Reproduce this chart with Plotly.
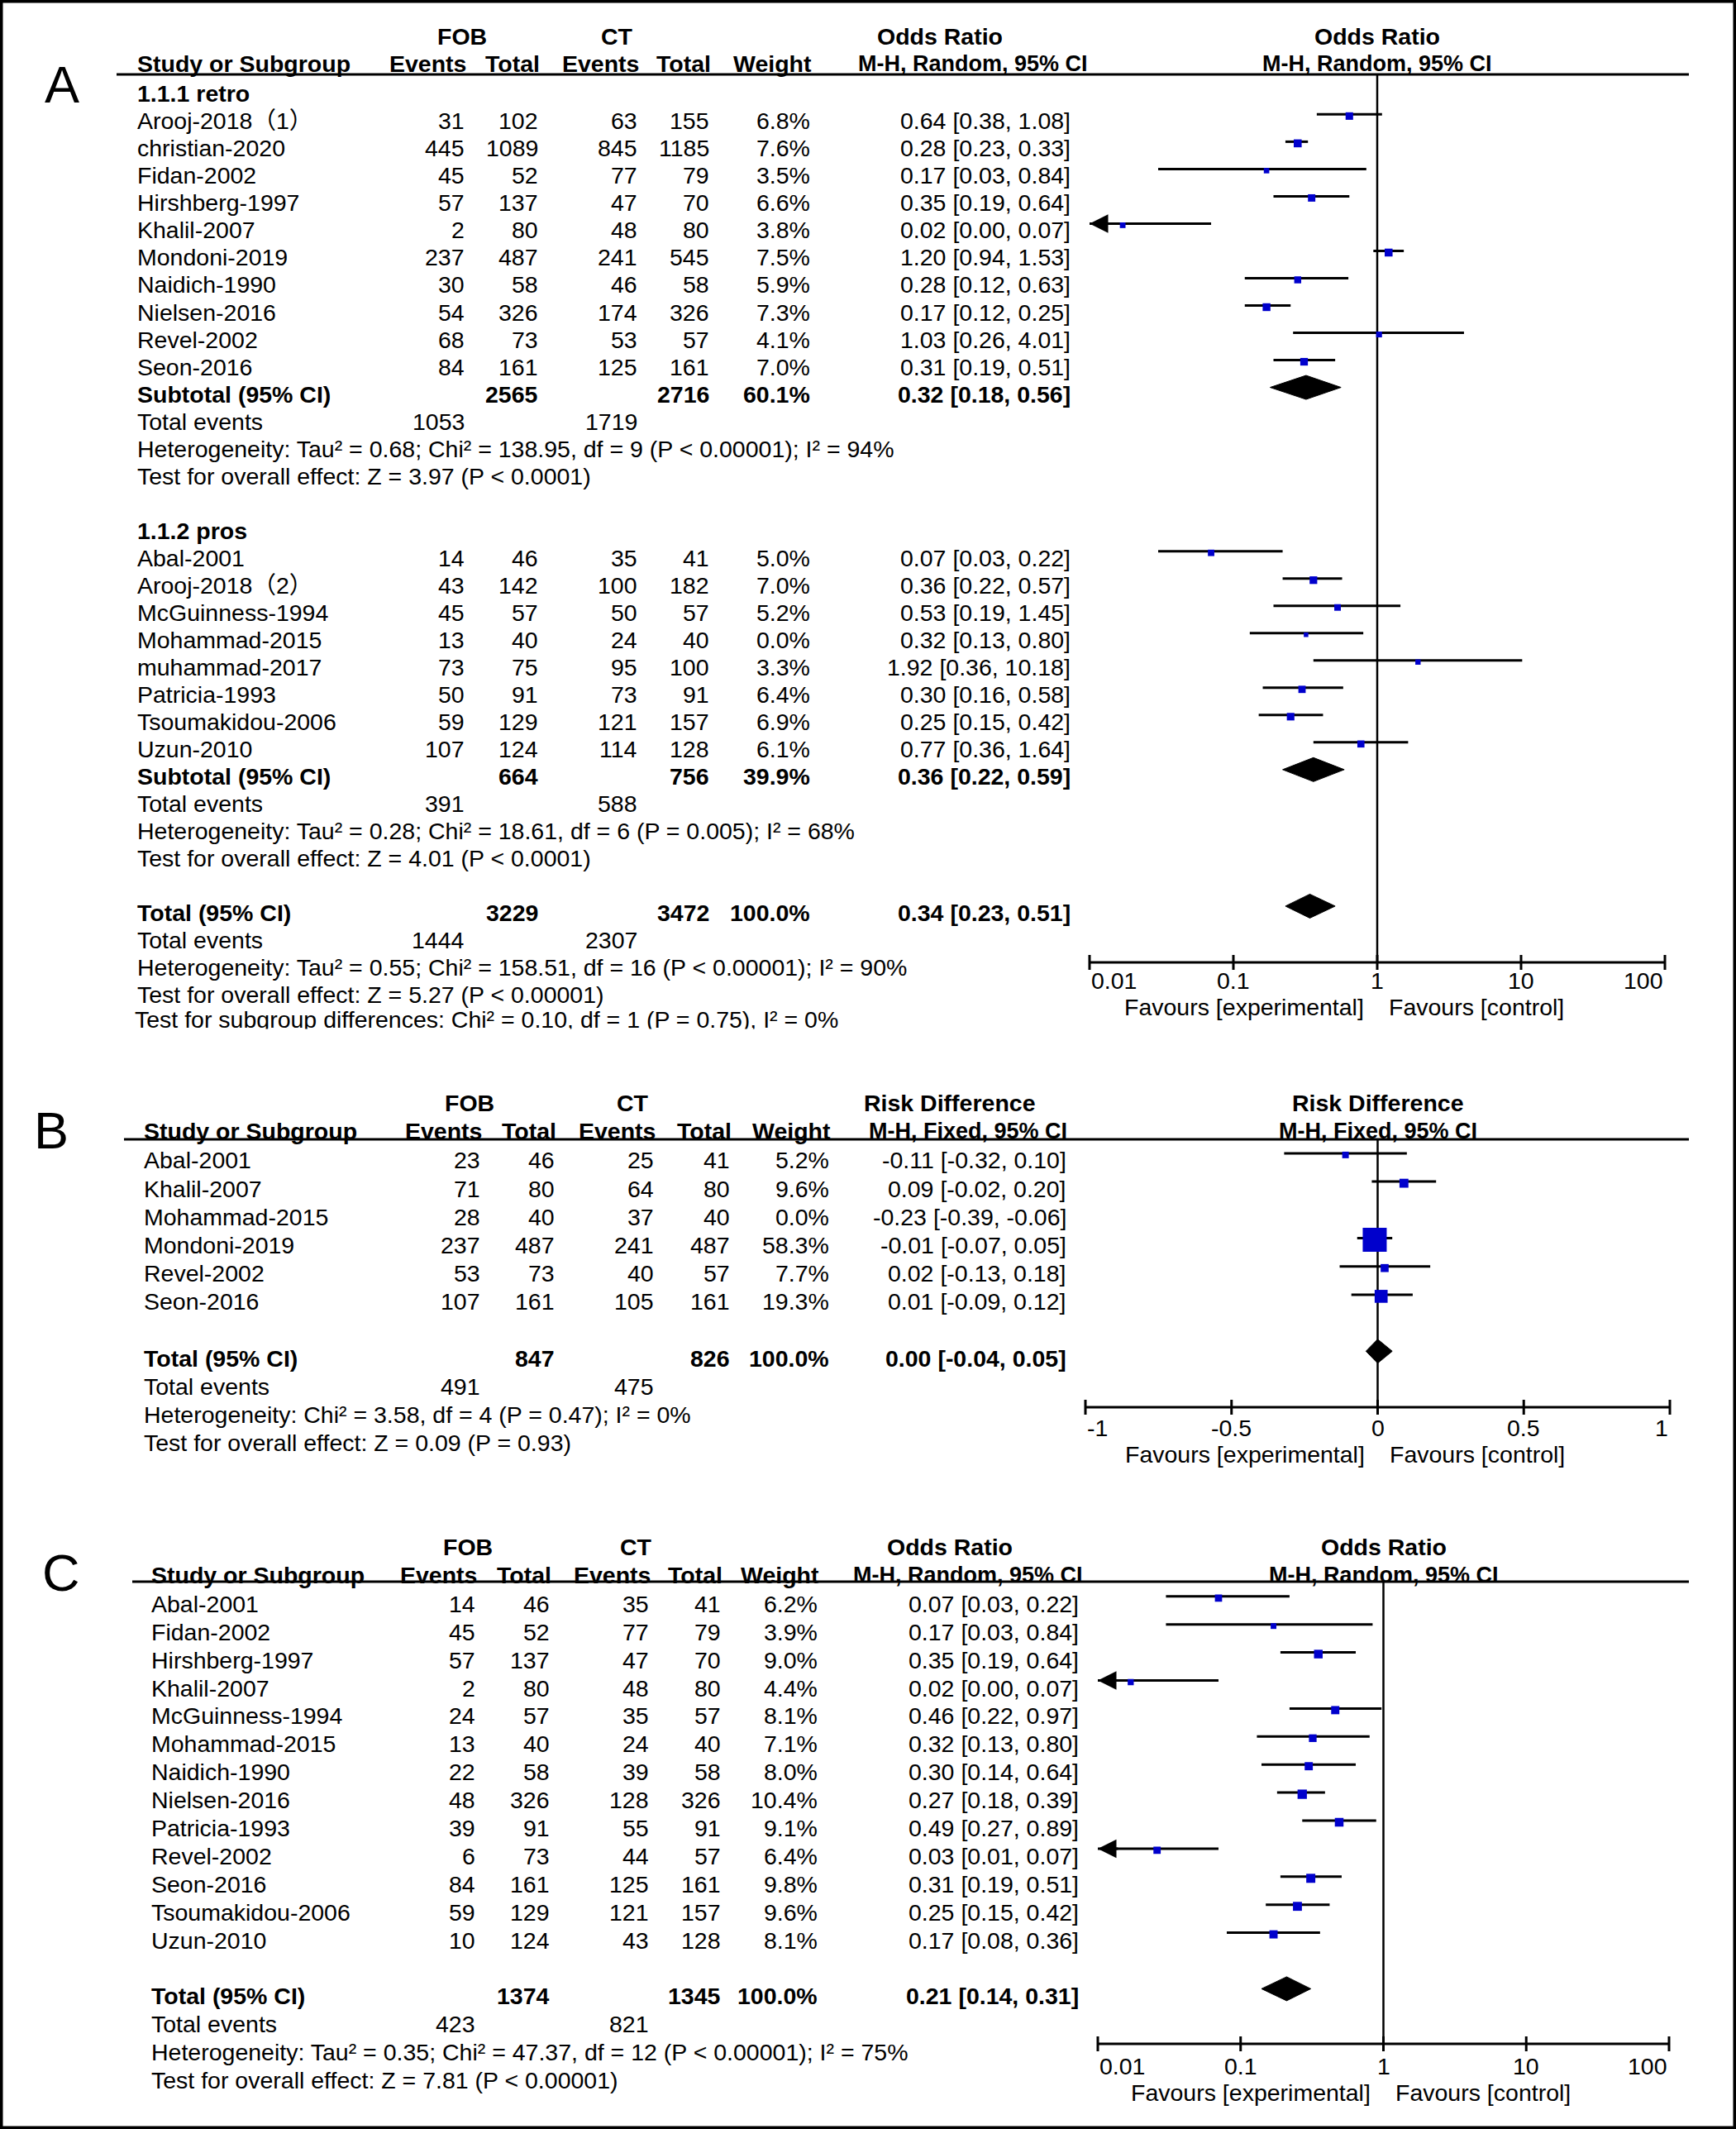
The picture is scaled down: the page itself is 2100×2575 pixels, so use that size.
import math
import plotly.graph_objects as go

W, H = 2100, 2575
FONT = "Liberation Sans, Arial, Noto Sans CJK SC, sans-serif"
FS = 28.5
BLUE = "#0000CC"

# ---------------- Panel A, subgroup 1.1.1 retro ----------------
A1_study = ["Arooj-2018（1）", "christian-2020", "Fidan-2002", "Hirshberg-1997", "Khalil-2007",
            "Mondoni-2019", "Naidich-1990", "Nielsen-2016", "Revel-2002", "Seon-2016"]
A1_fob_events = [31, 445, 45, 57, 2, 237, 30, 54, 68, 84]
A1_fob_total = [102, 1089, 52, 137, 80, 487, 58, 326, 73, 161]
A1_ct_events = [63, 845, 77, 47, 48, 241, 46, 174, 53, 125]
A1_ct_total = [155, 1185, 79, 70, 80, 545, 58, 326, 57, 161]
A1_weight = [6.8, 7.6, 3.5, 6.6, 3.8, 7.5, 5.9, 7.3, 4.1, 7.0]
A1_or = [0.64, 0.28, 0.17, 0.35, 0.017, 1.20, 0.28, 0.17, 1.03, 0.31]
A1_lo = [0.38, 0.23, 0.03, 0.19, 0.004, 0.94, 0.12, 0.12, 0.26, 0.19]
A1_hi = [1.08, 0.33, 0.84, 0.64, 0.07, 1.53, 0.63, 0.25, 4.01, 0.51]
A1_sum_totals = [2565, 2716]
A1_sum_events = [1053, 1719]
A1_sum_weight = 60.1
A1_sum_ci = [0.32, 0.18, 0.56]
A1_het = "Heterogeneity: Tau² = 0.68; Chi² = 138.95, df = 9 (P < 0.00001); I² = 94%"
A1_test = "Test for overall effect: Z = 3.97 (P < 0.0001)"

# ---------------- Panel A, subgroup 1.1.2 pros ----------------
A2_study = ["Abal-2001", "Arooj-2018（2）", "McGuinness-1994", "Mohammad-2015", "muhammad-2017",
            "Patricia-1993", "Tsoumakidou-2006", "Uzun-2010"]
A2_fob_events = [14, 43, 45, 13, 73, 50, 59, 107]
A2_fob_total = [46, 142, 57, 40, 75, 91, 129, 124]
A2_ct_events = [35, 100, 50, 24, 95, 73, 121, 114]
A2_ct_total = [41, 182, 57, 40, 100, 91, 157, 128]
A2_weight = [5.0, 7.0, 5.2, 0.0, 3.3, 6.4, 6.9, 6.1]
A2_or = [0.07, 0.36, 0.53, 0.32, 1.92, 0.30, 0.25, 0.77]
A2_lo = [0.03, 0.22, 0.19, 0.13, 0.36, 0.16, 0.15, 0.36]
A2_hi = [0.22, 0.57, 1.45, 0.80, 10.18, 0.58, 0.42, 1.64]
A2_sum_totals = [664, 756]
A2_sum_events = [391, 588]
A2_sum_weight = 39.9
A2_sum_ci = [0.36, 0.22, 0.59]
A2_het = "Heterogeneity: Tau² = 0.28; Chi² = 18.61, df = 6 (P = 0.005); I² = 68%"
A2_test = "Test for overall effect: Z = 4.01 (P < 0.0001)"

A_tot_totals = [3229, 3472]
A_tot_events = [1444, 2307]
A_tot_weight = 100.0
A_tot_ci = [0.34, 0.23, 0.51]
A_het = "Heterogeneity: Tau² = 0.55; Chi² = 158.51, df = 16 (P < 0.00001); I² = 90%"
A_test = "Test for overall effect: Z = 5.27 (P < 0.00001)"
A_subgroup = "Test for subgroup differences: Chi² = 0.10, df = 1 (P = 0.75), I² = 0%"

# ---------------- Panel B ----------------
B_study = ["Abal-2001", "Khalil-2007", "Mohammad-2015", "Mondoni-2019", "Revel-2002", "Seon-2016"]
B_fob_events = [23, 71, 28, 237, 53, 107]
B_fob_total = [46, 80, 40, 487, 73, 161]
B_ct_events = [25, 64, 37, 241, 40, 105]
B_ct_total = [41, 80, 40, 487, 57, 161]
B_weight = [5.2, 9.6, 0.0, 58.3, 7.7, 19.3]
B_rd = [-0.11, 0.09, -0.23, -0.01, 0.024, 0.012]
B_lo = [-0.32, -0.02, -0.39, -0.07, -0.13, -0.09]
B_hi = [0.10, 0.20, -0.06, 0.05, 0.18, 0.12]
B_tot_totals = [847, 826]
B_tot_events = [491, 475]
B_tot_weight = 100.0
B_tot_ci = [0.00, -0.04, 0.05]
B_het = "Heterogeneity: Chi² = 3.58, df = 4 (P = 0.47); I² = 0%"
B_test = "Test for overall effect: Z = 0.09 (P = 0.93)"

# ---------------- Panel C ----------------
C_study = ["Abal-2001", "Fidan-2002", "Hirshberg-1997", "Khalil-2007", "McGuinness-1994", "Mohammad-2015",
           "Naidich-1990", "Nielsen-2016", "Patricia-1993", "Revel-2002", "Seon-2016", "Tsoumakidou-2006",
           "Uzun-2010"]
C_fob_events = [14, 45, 57, 2, 24, 13, 22, 48, 39, 6, 84, 59, 10]
C_fob_total = [46, 52, 137, 80, 57, 40, 58, 326, 91, 73, 161, 129, 124]
C_ct_events = [35, 77, 47, 48, 35, 24, 39, 128, 55, 44, 125, 121, 43]
C_ct_total = [41, 79, 70, 80, 57, 40, 58, 326, 91, 57, 161, 157, 128]
C_weight = [6.2, 3.9, 9.0, 4.4, 8.1, 7.1, 8.0, 10.4, 9.1, 6.4, 9.8, 9.6, 8.1]
C_or = [0.07, 0.17, 0.35, 0.017, 0.46, 0.32, 0.30, 0.27, 0.49, 0.026, 0.31, 0.25, 0.17]
C_lo = [0.03, 0.03, 0.19, 0.004, 0.22, 0.13, 0.14, 0.18, 0.27, 0.0094, 0.19, 0.15, 0.08]
C_hi = [0.22, 0.84, 0.64, 0.07, 0.97, 0.80, 0.64, 0.39, 0.89, 0.07, 0.51, 0.42, 0.36]
C_tot_totals = [1374, 1345]
C_tot_events = [423, 821]
C_tot_weight = 100.0
C_tot_ci = [0.21, 0.14, 0.31]
C_het = "Heterogeneity: Tau² = 0.35; Chi² = 47.37, df = 12 (P < 0.00001); I² = 75%"
C_test = "Test for overall effect: Z = 7.81 (P < 0.00001)"

OR_TICKS = [0.01, 0.1, 1, 10, 100]
OR_TICK_TEXT = ["0.01", "0.1", "1", "10", "100"]
RD_TICKS = [-1, -0.5, 0, 0.5, 1]
RD_TICK_TEXT = ["-1", "-0.5", "0", "0.5", "1"]

# ---------------- layout geometry (pixels) ----------------
COLS_A = dict(study=164, fe=561, ft=650, ce=770, ct=857, w=979, ci=1294, fob=559, ctc=746, title=1137, method=1177)
COLS_B = dict(study=172, fe=580, ft=670, ce=790, ct=882, w=1002, ci=1289, fob=568, ctc=765, title=1149, method=1171)
COLS_C = dict(study=181, fe=574, ft=664, ce=784, ct=871, w=988, ci=1304, fob=566, ctc=769, title=1149, method=1171)
RSHIFT = 3      # right-anchored text nudged to match reference edges
MH_SIZE = 27

ann, shapes, traces = [], [], []


def T(x, y, s, anchor="left", bold=False, size=FS, xref="x4", xshift=0):
    if anchor == "right" and xref == "x4":
        xshift += RSHIFT
    ann.append(dict(x=x, y=y, xref=xref, yref="y", text=(f"<b>{s}</b>" if bold else s),
                    showarrow=False, xanchor=anchor, yanchor="middle", xshift=xshift,
                    font=dict(family=FONT, size=size, color="black")))


def ci_text(e, l, h):
    return f"{e:.2f} [{l:.2f}, {h:.2f}]"


def row(c, y, name, fe="", ft="", ce="", ct="", w="", ci="", bold=False):
    T(c["study"], y, name, "left", bold)
    for key, val in (("fe", fe), ("ft", ft), ("ce", ce), ("ct", ct), ("w", w), ("ci", ci)):
        if val != "":
            T(c[key], y, str(val), "right", bold)


def headers(c, y0, y1, title, method):
    T(c["fob"], y0, "FOB", "center", True)
    T(c["ctc"], y0, "CT", "center", True)
    T(c["title"], y0, title, "center", True)
    T(c["study"], y1, "Study or Subgroup", "left", True)
    T(c["fe"], y1, "Events", "right", True, xshift=2)
    T(c["ft"], y1, "Total", "right", True, xshift=2)
    T(c["ce"], y1, "Events", "right", True, xshift=2)
    T(c["ct"], y1, "Total", "right", True, xshift=2)
    T(c["w"], y1, "Weight", "right", True, xshift=2)
    T(c["method"], y1, method, "center", True, size=MH_SIZE)


def axis_setup(ticks, p0, p1, log, pad):
    u = [math.log10(t) for t in ticks] if log else list(ticks)
    k = (p1 - p0) / (u[-1] - u[0])
    rng = [u[0] - pad, u[-1] + pad]
    dom = [(p0 - pad * k) / W, (p1 + pad * k) / W]
    return dict(type="log" if log else "linear", range=rng, domain=dom, anchor="y",
                visible=False, fixedrange=True)


def forest(xa, log, ticks, tick_text, ys, est, lo, hi, wts, diamonds, null, title, method,
           y_h0, y_h1, y_top, y_axis, y_lab, y_fav, hide_zero=False):
    lv = (lambda v: math.log10(v)) if log else (lambda v: v)
    xmin, xmax = ticks[0], ticks[-1]
    lx, ly = [], []
    mx, my, ms = [], [], []
    for y, e, l, h, w in zip(ys, est, lo, hi, wts):
        if hide_zero and w == 0:
            continue
        lx += [max(l, xmin), min(h, xmax), None]
        ly += [y, y, None]
        mx.append(e)
        my.append(y + 2)
        ms.append(max(5.5, 1.5 + 2.4 * w ** 0.6))
        if l < xmin:
            ann.append(dict(x=lv(xmin), y=y, xref=xa, yref="y", ax=lv(xmin) + (0.15 if log else 0.05), ay=y,
                            axref=xa, ayref="y", showarrow=True, arrowhead=2, arrowsize=1.5,
                            arrowwidth=3, arrowcolor="black", text="", standoff=0))
    # null line, axis line, ticks
    traces.append(go.Scatter(x=[null, null], y=[y_top, y_axis], mode="lines",
                             line=dict(color="black", width=2.5), xaxis=xa, yaxis="y", hoverinfo="skip"))
    traces.append(go.Scatter(x=[xmin, xmax], y=[y_axis, y_axis], mode="lines",
                             line=dict(color="black", width=3), xaxis=xa, yaxis="y", hoverinfo="skip"))
    tx, ty = [], []
    for t in ticks:
        tx += [t, t, None]
        ty += [y_axis - 9, y_axis + 9, None]
    traces.append(go.Scatter(x=tx, y=ty, mode="lines", line=dict(color="black", width=3),
                             xaxis=xa, yaxis="y", hoverinfo="skip"))
    traces.append(go.Scatter(x=lx, y=ly, mode="lines", line=dict(color="black", width=3),
                             xaxis=xa, yaxis="y", hoverinfo="skip"))
    traces.append(go.Scatter(x=mx, y=my, mode="markers",
                             marker=dict(symbol="square", color=BLUE, size=ms, opacity=1,
                                         line=dict(width=0)),
                             xaxis=xa, yaxis="y", hoverinfo="skip"))
    DH = 14.5
    for y, (e, l, h) in diamonds:
        traces.append(go.Scatter(x=[l, e, h, e, l], y=[y, y - DH, y, y + DH, y], mode="lines",
                                 fill="toself", fillcolor="black", line=dict(color="black", width=1),
                                 xaxis=xa, yaxis="y", hoverinfo="skip"))
    for i, (t, s) in enumerate(zip(ticks, tick_text)):
        anchor = "left" if i == 0 else ("right" if i == len(ticks) - 1 else "center")
        T(lv(t), y_lab, s, anchor, xref=xa)
    T(lv(null), y_fav, "Favours [experimental]", "right", xref=xa, xshift=-14)
    T(lv(null), y_fav, "Favours [control]", "left", xref=xa, xshift=12)
    T(lv(null), y_h0, title, "center", True, xref=xa)
    T(lv(null), y_h1, method, "center", True, xref=xa, size=MH_SIZE)


# =============== PANEL A ===============
yA = lambda i: 44.3 + 33.02 * i + (3 if i >= 2 else 0)   # text rows
mA = lambda i: 44.3 + 33.02 * i - 5                      # forest marks for row i
headers(COLS_A, yA(0), yA(1), "Odds Ratio", "M-H, Random, 95% CI")
T(75, 102, "A", "center", size=63)
T(COLS_A["study"], yA(2), "1.1.1 retro", bold=True)
A_ys, A_est, A_lo, A_hi, A_w = [], [], [], [], []
for j in range(len(A1_study)):
    row(COLS_A, yA(3 + j), A1_study[j], A1_fob_events[j], A1_fob_total[j], A1_ct_events[j], A1_ct_total[j],
        f"{A1_weight[j]:.1f}%", ci_text(A1_or[j], A1_lo[j], A1_hi[j]))
    A_ys.append(mA(3 + j)); A_est.append(A1_or[j]); A_lo.append(A1_lo[j]); A_hi.append(A1_hi[j])
    A_w.append(A1_weight[j])
row(COLS_A, yA(13), "Subtotal (95% CI)", ft=A1_sum_totals[0], ct=A1_sum_totals[1],
    w=f"{A1_sum_weight:.1f}%", ci=ci_text(*A1_sum_ci), bold=True)
row(COLS_A, yA(14), "Total events", fe=A1_sum_events[0], ce=A1_sum_events[1])
T(COLS_A["study"], yA(15), A1_het)
T(COLS_A["study"], yA(16), A1_test)
T(COLS_A["study"], yA(18), "1.1.2 pros", bold=True)
for j in range(len(A2_study)):
    row(COLS_A, yA(19 + j), A2_study[j], A2_fob_events[j], A2_fob_total[j], A2_ct_events[j], A2_ct_total[j],
        f"{A2_weight[j]:.1f}%", ci_text(A2_or[j], A2_lo[j], A2_hi[j]))
    A_ys.append(mA(19 + j)); A_est.append(A2_or[j]); A_lo.append(A2_lo[j]); A_hi.append(A2_hi[j])
    A_w.append(A2_weight[j])
row(COLS_A, yA(27), "Subtotal (95% CI)", ft=A2_sum_totals[0], ct=A2_sum_totals[1],
    w=f"{A2_sum_weight:.1f}%", ci=ci_text(*A2_sum_ci), bold=True)
row(COLS_A, yA(28), "Total events", fe=A2_sum_events[0], ce=A2_sum_events[1])
T(COLS_A["study"], yA(29), A2_het)
T(COLS_A["study"], yA(30), A2_test)
row(COLS_A, yA(32), "Total (95% CI)", ft=A_tot_totals[0], ct=A_tot_totals[1],
    w=f"{A_tot_weight:.1f}%", ci=ci_text(*A_tot_ci), bold=True)
row(COLS_A, yA(33), "Total events", fe=A_tot_events[0], ce=A_tot_events[1])
T(COLS_A["study"], yA(34), A_het)
T(COLS_A["study"], yA(35), A_test)
# last line is cut off at the bottom in the reference: draw as trace text so a mask can clip it
traces.append(go.Scatter(x=[COLS_A["study"] - 1], y=[yA(36)], mode="text", text=[A_subgroup],
                         textposition="middle right", textfont=dict(family=FONT, size=FS, color="black"),
                         xaxis="x4", yaxis="y", hoverinfo="skip"))
shapes.append(dict(type="rect", xref="x4", yref="y", x0=140, x1=1250, y0=yA(36) + 8.5, y1=yA(36) + 30,
                   fillcolor="white", line=dict(width=0), layer="above"))
shapes.append(dict(type="line", xref="x4", yref="y", x0=141, x1=2043, y0=90, y1=90,
                   line=dict(color="black", width=3)))
forest("x", True, OR_TICKS, OR_TICK_TEXT, A_ys, A_est, A_lo, A_hi, A_w,
       [(mA(13), A1_sum_ci), (mA(27), A2_sum_ci), (mA(32), A_tot_ci)], 1,
       "Odds Ratio", "M-H, Random, 95% CI", yA(0), yA(1), 90, 1164, 1186, 1218)

# =============== PANEL B ===============
yB = lambda i: 1333.5 + 34.2 * i + (1.5 if i >= 2 else 0)
mB = lambda i: 1333.5 + 34.2 * i - 7
headers(COLS_B, yB(0), yB(1), "Risk Difference", "M-H, Fixed, 95% CI")
T(62, 1367, "B", "center", size=63)
B_ys = []
for j in range(len(B_study)):
    row(COLS_B, yB(2 + j), B_study[j], B_fob_events[j], B_fob_total[j], B_ct_events[j], B_ct_total[j],
        f"{B_weight[j]:.1f}%", ci_text(B_rd[j], B_lo[j], B_hi[j]))
    B_ys.append(mB(2 + j))
row(COLS_B, yB(9), "Total (95% CI)", ft=B_tot_totals[0], ct=B_tot_totals[1],
    w=f"{B_tot_weight:.1f}%", ci=ci_text(*B_tot_ci), bold=True)
row(COLS_B, yB(10), "Total events", fe=B_tot_events[0], ce=B_tot_events[1])
T(COLS_B["study"], yB(11), B_het)
T(COLS_B["study"], yB(12), B_test)
shapes.append(dict(type="line", xref="x4", yref="y", x0=150, x1=2043, y0=1378, y1=1378,
                   line=dict(color="black", width=3)))
forest("x2", False, RD_TICKS, RD_TICK_TEXT, B_ys, B_rd, B_lo, B_hi, B_weight,
       [(mB(9), B_tot_ci)], 0, "Risk Difference", "M-H, Fixed, 95% CI",
       yB(0), yB(1), 1378, 1702, 1727, 1759, hide_zero=True)

# =============== PANEL C ===============
yC = lambda i: 1871 + 33.9 * i + (1 if i >= 2 else 0)
mC = lambda i: 1871 + 33.9 * i - 8
headers(COLS_C, yC(0), yC(1), "Odds Ratio", "M-H, Random, 95% CI")
T(74, 1902, "C", "center", size=63)
C_ys = []
for j in range(len(C_study)):
    row(COLS_C, yC(2 + j), C_study[j], C_fob_events[j], C_fob_total[j], C_ct_events[j], C_ct_total[j],
        f"{C_weight[j]:.1f}%", ci_text(C_or[j], C_lo[j], C_hi[j]))
    C_ys.append(mC(2 + j))
row(COLS_C, yC(16), "Total (95% CI)", ft=C_tot_totals[0], ct=C_tot_totals[1],
    w=f"{C_tot_weight:.1f}%", ci=ci_text(*C_tot_ci), bold=True)
row(COLS_C, yC(17), "Total events", fe=C_tot_events[0], ce=C_tot_events[1])
T(COLS_C["study"], yC(18), C_het)
T(COLS_C["study"], yC(19), C_test)
shapes.append(dict(type="line", xref="x4", yref="y", x0=160, x1=2043, y0=1913, y1=1913,
                   line=dict(color="black", width=3)))
forest("x3", True, OR_TICKS, OR_TICK_TEXT, C_ys, C_or, C_lo, C_hi, C_weight,
       [(mC(16), C_tot_ci)], 1, "Odds Ratio", "M-H, Random, 95% CI",
       yC(0), yC(1), 1913, 2472, 2499, 2531)

# outer frame
shapes.append(dict(type="rect", xref="paper", yref="paper", x0=0, x1=1, y0=0, y1=1,
                   line=dict(color="black", width=7), fillcolor="rgba(0,0,0,0)", layer="above"))

fig = go.Figure(data=traces)
fig.update_layout(
    width=W, height=H, margin=dict(l=0, r=0, t=0, b=0),
    paper_bgcolor="white", plot_bgcolor="rgba(0,0,0,0)", showlegend=False, hovermode=False,
    annotations=ann, shapes=shapes,
    xaxis=axis_setup(OR_TICKS, 1318, 2014, True, 0.12),
    xaxis2=axis_setup(RD_TICKS, 1313, 2020, False, 0.06),
    xaxis3=axis_setup(OR_TICKS, 1328, 2019, True, 0.12),
    xaxis4=dict(range=[0, W], domain=[0, 1], anchor="y", visible=False, fixedrange=True),
    yaxis=dict(range=[H, 0], domain=[0, 1], visible=False, fixedrange=True),
)
fig.write_html("out.html", config={"displayModeBar": False},
               post_script="document.body.style.margin='0';document.body.style.overflow='hidden';")
